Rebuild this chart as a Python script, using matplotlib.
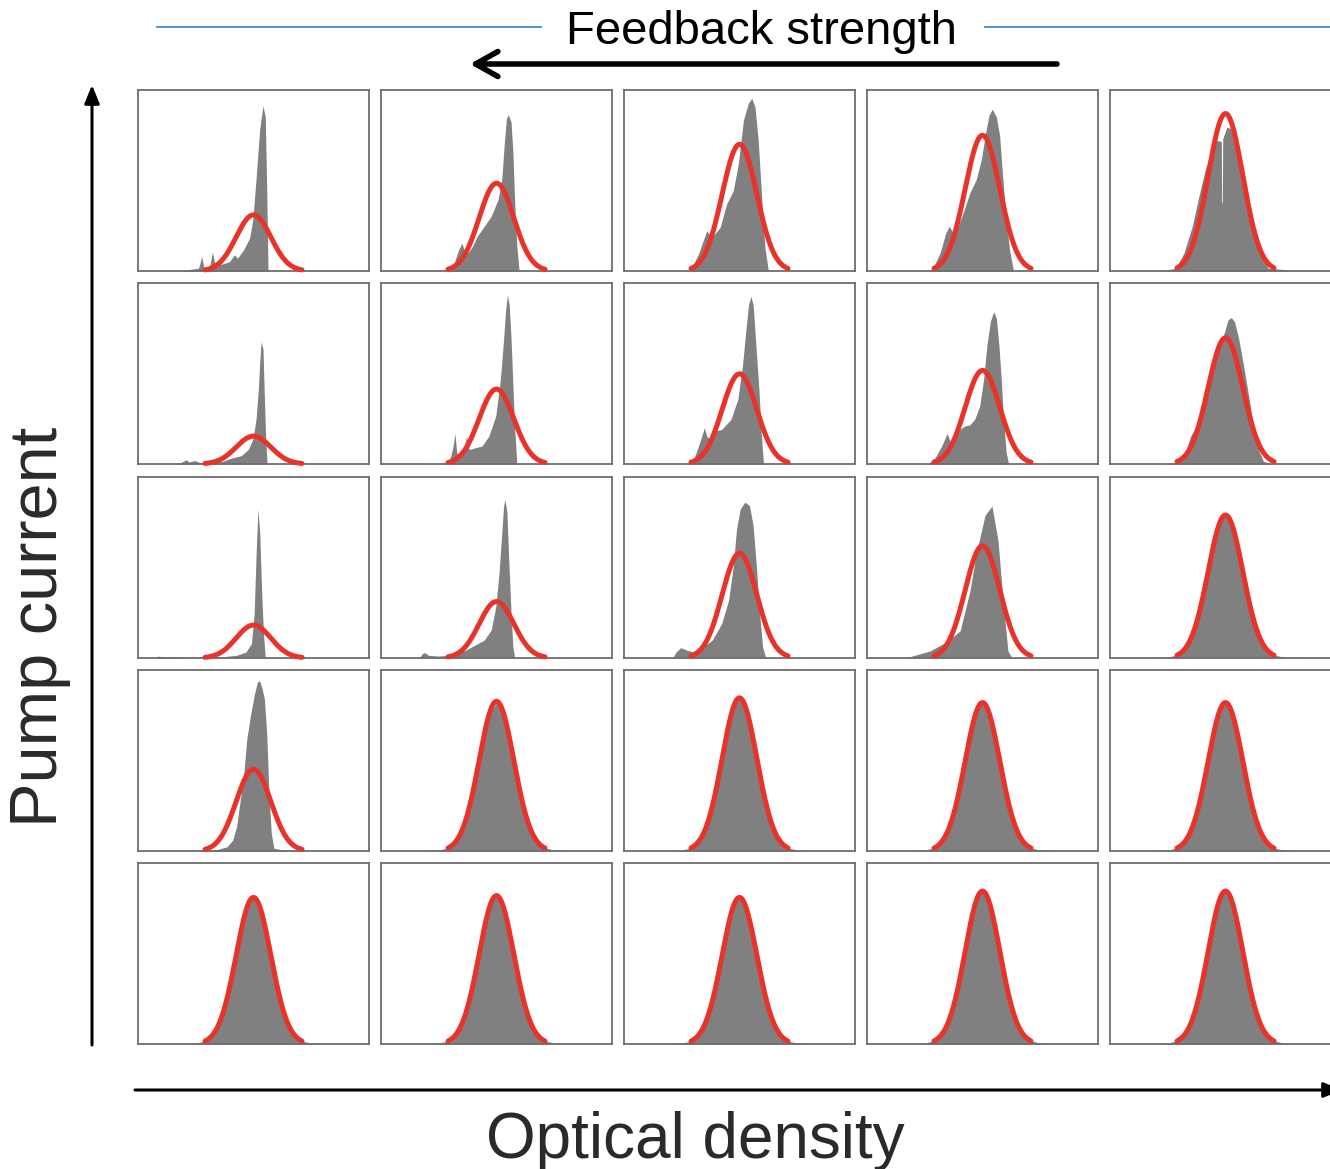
import matplotlib
matplotlib.use("Agg")
import matplotlib.pyplot as plt
import numpy as np

plt.rcParams["font.family"] = ["Liberation Sans", "DejaVu Sans"]

# Gaussian fit (red): peak height of each panel, rows top -> bottom, cols left -> right
fit_center = 0.5
fit_sigma = 0.075
fit_amp = [
    [0.31, 0.485, 0.70, 0.75, 0.87],
    [0.154, 0.414, 0.498, 0.517, 0.697],
    [0.182, 0.312, 0.578, 0.62, 0.79],
    [0.452, 0.827, 0.846, 0.82, 0.82],
    [0.81, 0.82, 0.81, 0.845, 0.845],
]

# measured histograms (grey), x as fraction of panel width, h as fraction of panel height
x_11 = [0.185, 0.225, 0.262, 0.276, 0.286, 0.31, 0.322, 0.334, 0.366, 0.396, 0.417,
        0.431, 0.457, 0.483, 0.497, 0.511, 0.527, 0.541, 0.551, 0.557, 0.563]
h_11 = [0, 0.009, 0.015, 0.08, 0.015, 0.024, 0.104, 0.033, 0.039, 0.052, 0.089,
        0.071, 0.117, 0.182, 0.284, 0.507, 0.786, 0.913, 0.851, 0.47, 0]
x_12 = [0.292, 0.316, 0.336, 0.350, 0.362, 0.376, 0.396, 0.416, 0.447, 0.477, 0.507,
        0.523, 0.533, 0.543, 0.551, 0.563, 0.571, 0.579, 0.588, 0.598]
h_12 = [0, 0.043, 0.117, 0.154, 0.108, 0.099, 0.136, 0.191, 0.247, 0.303, 0.396,
        0.507, 0.693, 0.842, 0.864, 0.823, 0.656, 0.372, 0.136, 0]
x_13 = [0.286, 0.322, 0.358, 0.380, 0.416, 0.444, 0.473, 0.495, 0.517, 0.538, 0.553,
        0.567, 0.581, 0.596, 0.61, 0.625]
h_13 = [0, 0.093, 0.222, 0.185, 0.241, 0.37, 0.444, 0.593, 0.833, 0.926, 0.954,
        0.907, 0.722, 0.407, 0.13, 0]
x_14 = [0.28, 0.316, 0.341, 0.356, 0.373, 0.395, 0.416, 0.445, 0.473, 0.495, 0.514,
        0.528, 0.542, 0.56, 0.574, 0.588, 0.603, 0.617, 0.634]
h_14 = [0, 0.099, 0.21, 0.247, 0.21, 0.247, 0.32, 0.431, 0.506, 0.617, 0.766,
        0.86, 0.894, 0.851, 0.749, 0.507, 0.284, 0.117, 0]
x_15 = [0.212, 0.284, 0.32, 0.356, 0.385, 0.413, 0.442, 0.463, 0.482, 0.4835, 0.4864,
        0.488, 0.506, 0.521, 0.542, 0.571, 0.6, 0.628, 0.657, 0.686, 0.772]
h_15 = [0, 0.015, 0.099, 0.247, 0.414, 0.563, 0.684, 0.721, 0.716, 0.377, 0.377,
        0.73, 0.796, 0.786, 0.712, 0.545, 0.377, 0.21, 0.08, 0.015, 0.006]

x_21 = [0.175, 0.195, 0.209, 0.221, 0.245, 0.266, 0.286, 0.316, 0.366, 0.406, 0.447,
        0.477, 0.497, 0.511, 0.521, 0.527, 0.533, 0.541, 0.547, 0.553, 0.559]
h_21 = [0, 0.015, 0.024, 0.011, 0.019, 0.009, 0.006, 0.006, 0.015, 0.033, 0.046,
        0.08, 0.136, 0.247, 0.414, 0.563, 0.675, 0.636, 0.377, 0.136, 0]
x_22 = [0.286, 0.302, 0.312, 0.32, 0.328, 0.342, 0.362, 0.37, 0.382, 0.406, 0.437,
        0.467, 0.497, 0.517, 0.531, 0.539, 0.547, 0.555, 0.563, 0.571, 0.579, 0.588]
h_22 = [0, 0.043, 0.099, 0.169, 0.061, 0.043, 0.099, 0.154, 0.08, 0.089, 0.099,
        0.154, 0.266, 0.47, 0.693, 0.842, 0.935, 0.879, 0.693, 0.433, 0.191, 0]
x_23 = [0.292, 0.312, 0.332, 0.348, 0.358, 0.372, 0.392, 0.423, 0.463, 0.493, 0.513,
        0.527, 0.539, 0.549, 0.559, 0.569, 0.584, 0.594, 0.604]
h_23 = [0, 0.061, 0.136, 0.201, 0.154, 0.136, 0.182, 0.191, 0.247, 0.359, 0.545,
        0.731, 0.879, 0.926, 0.879, 0.693, 0.414, 0.173, 0]
x_24 = [0.265, 0.294, 0.323, 0.347, 0.362, 0.38, 0.402, 0.423, 0.445, 0.466, 0.488,
        0.505, 0.519, 0.534, 0.548, 0.56, 0.571, 0.581, 0.591, 0.603, 0.613]
h_24 = [0, 0.033, 0.099, 0.169, 0.117, 0.136, 0.191, 0.21, 0.216, 0.247, 0.321,
        0.47, 0.656, 0.786, 0.842, 0.805, 0.656, 0.47, 0.247, 0.061, 0]
x_25 = [0.227, 0.284, 0.32, 0.349, 0.37, 0.392, 0.413, 0.435, 0.456, 0.478, 0.496,
        0.511, 0.525, 0.539, 0.557, 0.578, 0.6, 0.621, 0.643, 0.664, 0.7]
h_25 = [0, 0.006, 0.043, 0.154, 0.201, 0.284, 0.414, 0.507, 0.582, 0.656, 0.731,
        0.796, 0.809, 0.786, 0.693, 0.545, 0.377, 0.21, 0.08, 0.015, 0]

x_31 = [0.074, 0.089, 0.105, 0.165, 0.266, 0.366, 0.427, 0.467, 0.491, 0.503, 0.511,
        0.519, 0.527, 0.535, 0.543, 0.551]
h_31 = [0, 0.011, 0.006, 0.006, 0.004, 0.007, 0.015, 0.033, 0.08, 0.247, 0.563,
        0.823, 0.693, 0.377, 0.136, 0]
x_32 = [0.165, 0.179, 0.189, 0.205, 0.245, 0.306, 0.366, 0.406, 0.447, 0.477, 0.497,
        0.511, 0.523, 0.531, 0.537, 0.545, 0.553, 0.563, 0.571, 0.579]
h_32 = [0, 0.024, 0.03, 0.015, 0.011, 0.015, 0.043, 0.071, 0.099, 0.154, 0.284,
        0.47, 0.693, 0.842, 0.875, 0.804, 0.544, 0.247, 0.061, 0]
x_33 = [0.211, 0.225, 0.245, 0.272, 0.302, 0.332, 0.382, 0.423, 0.453, 0.473, 0.487,
        0.503, 0.523, 0.543, 0.559, 0.573, 0.587, 0.6, 0.614]
h_33 = [0, 0.033, 0.057, 0.043, 0.033, 0.052, 0.099, 0.191, 0.321, 0.507, 0.712,
        0.823, 0.861, 0.842, 0.731, 0.507, 0.247, 0.061, 0]
x_34 = [0.165, 0.273, 0.351, 0.403, 0.446, 0.468, 0.481, 0.511, 0.541, 0.567, 0.589,
        0.61, 0.628]
h_34 = [0, 0.039, 0.094, 0.15, 0.372, 0.54, 0.622, 0.789, 0.839, 0.65, 0.317,
        0.039, 0]

x_41 = [0.266, 0.346, 0.386, 0.41, 0.427, 0.443, 0.457, 0.471, 0.487, 0.503, 0.517,
        0.527, 0.537, 0.547, 0.557, 0.567, 0.577, 0.588, 0.628, 0.728]
h_41 = [0, 0.009, 0.024, 0.061, 0.136, 0.284, 0.414, 0.619, 0.749, 0.86, 0.935,
        0.939, 0.898, 0.842, 0.656, 0.32, 0.099, 0.015, 0.006, 0]

# bell-shaped histograms share one x grid
x_bell = [0.17, 0.25, 0.29, 0.32, 0.35, 0.38, 0.41, 0.44, 0.47, 0.50,
          0.53, 0.56, 0.59, 0.62, 0.65, 0.68, 0.71, 0.75, 0.83]
h_35 = [0, 0.005, 0.017, 0.044, 0.106, 0.22, 0.385, 0.573, 0.73, 0.79,
        0.73, 0.573, 0.385, 0.22, 0.106, 0.044, 0.017, 0.005, 0]
h_42 = [0, 0.005, 0.017, 0.046, 0.11, 0.228, 0.40, 0.595, 0.757, 0.82,
        0.757, 0.595, 0.40, 0.228, 0.11, 0.046, 0.017, 0.005, 0]
h_43 = [0, 0.005, 0.018, 0.048, 0.115, 0.236, 0.414, 0.617, 0.785, 0.85,
        0.785, 0.617, 0.414, 0.236, 0.115, 0.048, 0.018, 0.005, 0]
h_44 = [0, 0.005, 0.017, 0.046, 0.112, 0.231, 0.404, 0.603, 0.766, 0.83,
        0.766, 0.603, 0.404, 0.231, 0.112, 0.046, 0.017, 0.005, 0]
h_45 = [0, 0.005, 0.017, 0.046, 0.112, 0.231, 0.404, 0.603, 0.766, 0.83,
        0.766, 0.603, 0.404, 0.231, 0.112, 0.046, 0.017, 0.005, 0]
h_51 = [0, 0.005, 0.016, 0.045, 0.109, 0.225, 0.394, 0.588, 0.748, 0.81,
        0.748, 0.588, 0.394, 0.225, 0.109, 0.045, 0.016, 0.005, 0]
h_52 = [0, 0.005, 0.017, 0.046, 0.11, 0.228, 0.40, 0.595, 0.757, 0.82,
        0.757, 0.595, 0.40, 0.228, 0.11, 0.046, 0.017, 0.005, 0]
h_53 = [0, 0.005, 0.016, 0.045, 0.109, 0.225, 0.394, 0.588, 0.748, 0.81,
        0.748, 0.588, 0.394, 0.225, 0.109, 0.045, 0.016, 0.005, 0]
h_54 = [0, 0.005, 0.018, 0.048, 0.115, 0.236, 0.414, 0.617, 0.785, 0.85,
        0.785, 0.617, 0.414, 0.236, 0.115, 0.048, 0.018, 0.005, 0]
h_55 = [0, 0.005, 0.018, 0.048, 0.115, 0.236, 0.414, 0.617, 0.785, 0.85,
        0.785, 0.617, 0.414, 0.236, 0.115, 0.048, 0.018, 0.005, 0]

hists = [
    [(x_11, h_11), (x_12, h_12), (x_13, h_13), (x_14, h_14), (x_15, h_15)],
    [(x_21, h_21), (x_22, h_22), (x_23, h_23), (x_24, h_24), (x_25, h_25)],
    [(x_31, h_31), (x_32, h_32), (x_33, h_33), (x_34, h_34), (x_bell, h_35)],
    [(x_41, h_41), (x_bell, h_42), (x_bell, h_43), (x_bell, h_44), (x_bell, h_45)],
    [(x_bell, h_51), (x_bell, h_52), (x_bell, h_53), (x_bell, h_54), (x_bell, h_55)],
]

W, H = 1330, 1169
fig = plt.figure(figsize=(W / 100, H / 100), dpi=100)

# overlay in pixel coordinates for arrows and labels
ov = fig.add_axes([0, 0, 1, 1])
ov.set_xlim(0, W)
ov.set_ylim(H, 0)
ov.axis("off")

col_left = [138, 381, 624, 867, 1110]
row_top = [90, 283, 477, 670, 863]
pw, ph = 231, 181

xfit = np.linspace(fit_center - 0.21, fit_center + 0.21, 200)

for r in range(5):
    for c in range(5):
        ax = fig.add_axes([col_left[c] / W, 1 - (row_top[r] + ph) / H, pw / W, ph / H])
        ax.set_xlim(0, 1)
        ax.set_ylim(0, 1)
        ax.set_xticks([])
        ax.set_yticks([])
        for s in ax.spines.values():
            s.set_color("#6e6e6e")
            s.set_linewidth(1.3)
        hx, hh = hists[r][c]
        ax.fill_between(hx, hh, 0, color="#808080", lw=0, zorder=1)
        yfit = fit_amp[r][c] * np.exp(-0.5 * ((xfit - fit_center) / fit_sigma) ** 2)
        ax.plot(xfit, yfit, color="#e8332a", lw=3.6, solid_capstyle="round",
                zorder=3, clip_on=False)

# top: feedback strength
ov.plot([157, 541], [27, 27], color="#3a8fd2", lw=1.3)
ov.plot([985, 1330], [27, 27], color="#3a8fd2", lw=1.3)
ov.text(761, 44, "Feedback strength", ha="center", va="baseline", fontsize=34, color="black")
ov.annotate("", xy=(470, 64), xytext=(1057, 64),
            arrowprops=dict(arrowstyle="->,head_length=1.6,head_width=0.9",
                            lw=4, color="black", shrinkA=0, shrinkB=0))

# left: pump current
ov.annotate("", xy=(92, 85), xytext=(92, 1045), annotation_clip=False,
            arrowprops=dict(arrowstyle="-|>,head_length=1.1,head_width=0.45",
                            lw=2.2, color="black", shrinkA=0, shrinkB=0))
ov.text(40, 627, "Pump current", rotation=90, ha="center", va="center",
        fontsize=48, color="#2a2a2a")

# bottom: optical density
ov.annotate("", xy=(1342, 1090), xytext=(135, 1090), annotation_clip=False,
            arrowprops=dict(arrowstyle="-|>,head_length=1.1,head_width=0.45",
                            lw=2.2, color="black", shrinkA=0, shrinkB=0))
ov.text(695, 1158, "Optical density", ha="center", va="baseline", fontsize=46,
        color="#2a2a2a")

fig.savefig("out.png", dpi=100)
